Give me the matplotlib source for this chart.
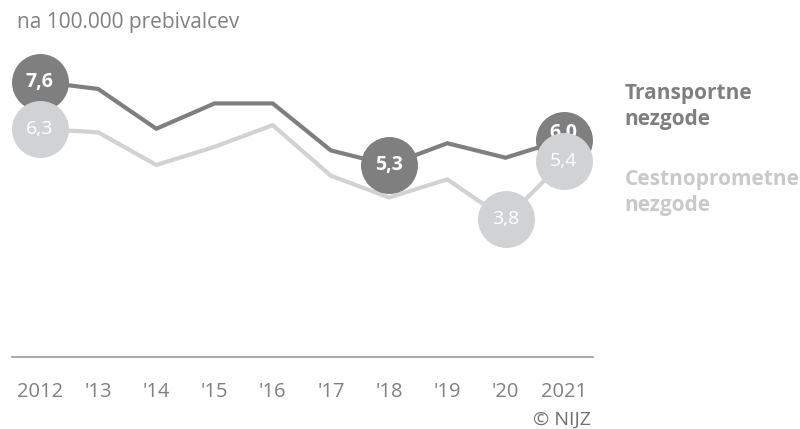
import matplotlib
matplotlib.use("Agg")
import matplotlib.pyplot as plt

# podatki: umrljivost na 100.000 prebivalcev
years = [2012, 2013, 2014, 2015, 2016, 2017, 2018, 2019, 2020, 2021]
tick_labels = ["2012", "'13", "'14", "'15", "'16", "'17", "'18", "'19", "'20", "2021"]
transport = [7.6, 7.4, 6.3, 7.0, 7.0, 5.7, 5.3, 5.9, 5.5, 6.0]
cestni = [6.3, 6.2, 5.3, 5.8, 6.4, 5.0, 4.4, 4.9, 3.8, 5.4]

# kateri roki dobijo krog z vrednostjo
transport_marked = [2012, 2018, 2021]
cestni_marked = [2012, 2020, 2021]

dark = "#7f7f7f"
light = "#d1d2d4"
text_gray = "#808080"

plt.rcParams['font.family'] = ['Open Sans', 'DejaVu Sans']

fig = plt.figure(figsize=(8, 4.29), dpi=100)
ax = fig.add_axes([0.015, 0.1685, 0.726, 0.738])

ax.plot(years, cestni, color=light, lw=3, zorder=2, solid_joinstyle='miter')
ax.plot(years, transport, color=dark, lw=3, zorder=3, solid_joinstyle='miter')

for y, v in zip(years, transport):
    if y in transport_marked:
        # zadnji krog je prekrit, zato dvignemo napis
        dy = 5 if y == years[-1] else 0
        ax.plot(y, v, 'o', ms=41, color=dark, mec='none', zorder=4)
        ax.annotate(f"{v:.1f}".replace('.', ','), (y, v), xytext=(0, dy),
                    textcoords='offset points', color='white', fontsize=14,
                    fontweight='bold', ha='center', va='center', zorder=5)

for y, v in zip(years, cestni):
    if y in cestni_marked:
        ax.plot(y, v, 'o', ms=41, color=light, mec='none', zorder=6)
        ax.text(y, v, f"{v:.1f}".replace('.', ','), color='white', fontsize=14,
                ha='center', va='center', zorder=7)

ax.set_xlim(2011.52, 2021.5)
ax.set_ylim(0, 8.75)
ax.set_xticks(years)
ax.set_xticklabels(tick_labels, fontsize=14.5, color=text_gray)
ax.tick_params(axis='x', length=0, pad=18)
ax.set_yticks([])
for s in ['top', 'right', 'left']:
    ax.spines[s].set_visible(False)
ax.spines['bottom'].set_color('#999999')
ax.spines['bottom'].set_linewidth(1.2)

fig.text(0.021, 0.947, "na 100.000 prebivalcev", fontsize=15, color=text_gray,
         va='center', ha='left')
fig.text(0.781, 0.752, "Transportne\nnezgode", fontsize=15, fontweight='bold',
         color=dark, va='center', ha='left', linespacing=1.3)
fig.text(0.781, 0.552, "Cestnoprometne\nnezgode", fontsize=15, fontweight='bold',
         color="#c8c9cb", va='center', ha='left', linespacing=1.3)
fig.text(0.738, 0.021, "© NIJZ", fontsize=14, color="#6f6f6f",
         va='center', ha='right')

fig.savefig("out.png", dpi=100)
